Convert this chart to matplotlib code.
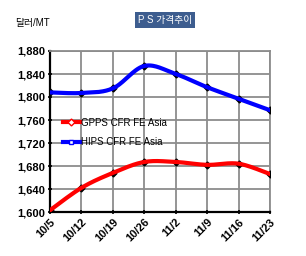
import matplotlib
matplotlib.use('Agg')
import matplotlib.pyplot as plt
import numpy as np
from matplotlib.lines import Line2D

plt.rcParams['font.family'] = ['Liberation Sans', 'Noto Sans CJK KR', 'DejaVu Sans']

dates = ['10/5', '10/12', '10/19', '10/26', '11/2', '11/9', '11/16', '11/23']
gpps = [1603, 1642, 1668, 1687, 1687, 1682, 1684, 1666]
hips = [1808, 1807, 1815, 1854, 1840, 1817, 1797, 1777]
yticks = [1600, 1640, 1680, 1720, 1760, 1800, 1840, 1880]


def smooth(x, y, sx, sy, n=30):
    # excel-like bezier smoothing, computed in screen-ish units
    p = np.column_stack([np.asarray(x, float) * sx, np.asarray(y, float) * sy])
    out = []
    for i in range(len(p) - 1):
        p0 = p[max(i - 1, 0)]
        p1 = p[i]
        p2 = p[i + 1]
        p3 = p[min(i + 2, len(p) - 1)]
        c1 = p1 + (p2 - p0) / 6
        c2 = p2 - (p3 - p1) / 6
        t = np.linspace(0, 1, n)[:, None]
        seg = (1 - t) ** 3 * p1 + 3 * (1 - t) ** 2 * t * c1 + 3 * (1 - t) * t ** 2 * c2 + t ** 3 * p2
        out.append(seg if i == 0 else seg[1:])
    out = np.vstack(out)
    return out[:, 0] / sx, out[:, 1] / sy


fig = plt.figure(figsize=(3.06, 2.56), dpi=100)
ax = fig.add_axes([50 / 306, 1 - 212 / 256, 220 / 306, 161 / 256])

x = np.arange(len(dates))
sx = 220 / 7
sy = 161 / 280

for vals, col in [(hips, '#0000ff'), (gpps, '#ff0000')]:
    xs, ys = smooth(x, vals, sx, sy)
    ax.plot(x, vals, 'D', color='black', ms=3.5, zorder=3)
    ax.plot(xs, ys, color=col, lw=3, zorder=4, solid_capstyle='round')

ax.set_xlim(0, 7)
ax.set_ylim(1600, 1880)
ax.set_yticks(yticks)
ax.set_yticklabels([f'{v:,}' for v in yticks], fontsize=8, fontweight='bold')
ax.set_xticks(x)
ax.set_xticklabels(dates, fontsize=8, fontweight='bold', rotation=45,
                   ha='right', rotation_mode='anchor')
ax.tick_params(axis='both', length=3, width=1.2, direction='inout', pad=2)
ax.grid(True, color='#8c8c8c', lw=1.3)
ax.set_axisbelow(True)
for s in ['top', 'right']:
    ax.spines[s].set_color('#8c8c8c')
    ax.spines[s].set_linewidth(1.3)
for s in ['left', 'bottom']:
    ax.spines[s].set_color('black')
    ax.spines[s].set_linewidth(1.6)

handles = [
    Line2D([], [], color='#ff0000', lw=3, marker='D', ms=3.5, mfc='white', mec='#ff0000'),
    Line2D([], [], color='#0000ff', lw=3, marker='s', ms=3.5, mfc='white', mec='#0000ff'),
]
ax.legend(handles, ['GPPS CFR FE Asia', 'HIPS CFR FE Asia'], loc='upper left',
          bbox_to_anchor=(0.04, 0.61), frameon=False, prop={'size': 7},
          handlelength=1.8, handletextpad=0.1, labelspacing=0.95, borderaxespad=0)

fig.text(15 / 306, 1 - 23 / 256, '달러/MT', fontsize=7, va='center', ha='left')
fig.text(165 / 306, 1 - 20 / 256, 'P S 가격추이', fontsize=7, color='white',
         va='center', ha='center',
         bbox=dict(boxstyle='square,pad=0.3', fc='#3d5d8f', ec='none'))

fig.savefig('out.png', dpi=100)
